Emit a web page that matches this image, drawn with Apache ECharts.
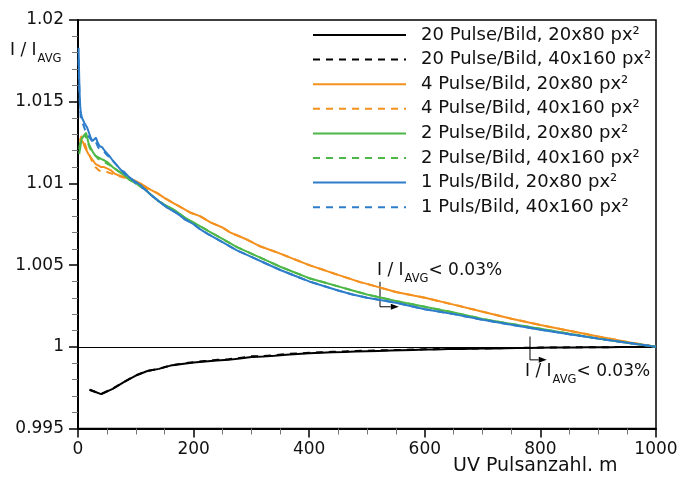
<!DOCTYPE html>
<html><head><meta charset="utf-8">
<script src="https://cdn.jsdelivr.net/npm/echarts@6/dist/echarts.min.js"></script>
<style>html,body{margin:0;padding:0;background:#fff}#c{width:687px;height:477px}</style>
</head><body><div id="c"></div>
<script>
const FONT = 'DejaVu Sans';

// axis ticks
const yTickValues = [0.995, 1, 1.005, 1.01, 1.015, 1.02];
const yTickLabels = ['0.995', '1', '1.005', '1.01', '1.015', '1.02'];
const xTickValues = [0, 200, 400, 600, 800, 1000];
const xTickLabels = ['0', '200', '400', '600', '800', '1000'];

// series names
const seriesNames = [
  '20 Pulse/Bild, 20x80 px²', '20 Pulse/Bild, 40x160 px²',
  '4 Pulse/Bild, 20x80 px²', '4 Pulse/Bild, 40x160 px²',
  '2 Pulse/Bild, 20x80 px²', '2 Pulse/Bild, 40x160 px²',
  '1 Puls/Bild, 20x80 px²', '1 Puls/Bild, 40x160 px²'
];

// 20 Pulse/Bild
const p20_small = [[20,0.99737],[40,0.99710],[60,0.99743],[80,0.99785],[100,0.99824],[120,0.99852],[140,0.99865],[160,0.99885],[180,0.99895],[200,0.99904],[220,0.99910],[240,0.99916],[260,0.99920],[280,0.99928],[300,0.99938],[320,0.99940],[340,0.99945],[360,0.99952],[380,0.99956],[400,0.99960],[420,0.99963],[440,0.99966],[460,0.99968],[480,0.99971],[500,0.99973],[520,0.99975],[540,0.99977],[560,0.99979],[580,0.99981],[600,0.99983],[620,0.99984],[640,0.99986],[660,0.99987],[680,0.99988],[700,0.99989],[720,0.99990],[740,0.99991],[760,0.99992],[780,0.99993],[800,0.99994],[820,0.99995],[840,0.99996],[860,0.99996],[880,0.99997],[900,0.99998],[920,0.99998],[940,0.99999],[960,0.99999],[980,1.0],[1000,1.0]];
const p20_large = [[20,0.99737],[40,0.99711],[60,0.99744],[80,0.99786],[100,0.99825],[120,0.99853],[140,0.99866],[160,0.99886],[180,0.99897],[200,0.99906],[220,0.99913],[240,0.99920],[260,0.99924],[280,0.99932],[300,0.99942],[320,0.99943],[340,0.99949],[360,0.99956],[380,0.99959],[400,0.99963],[420,0.99966],[440,0.99969],[460,0.99971],[480,0.99974],[500,0.99976],[520,0.99978],[540,0.99980],[560,0.99981],[580,0.99983],[600,0.99985],[620,0.99986],[640,0.99987],[660,0.99988],[680,0.99989],[700,0.99990],[720,0.99991],[740,0.99992],[760,0.99993],[780,0.99994],[800,0.99995],[820,0.99995],[840,0.99996],[860,0.99997],[880,0.99997],[900,0.99998],[920,0.99998],[940,0.99999],[960,0.99999],[980,1.0],[1000,1.0]];

// 4 Pulse/Bild
const p4_small = [[3,1.0123],[5,1.0127],[7,1.0128],[9,1.0125],[12,1.0122],[15,1.0121],[18,1.0118],[22,1.0116],[26,1.0114],[30,1.0112],[35,1.0111],[40,1.0110],[45,1.0110],[51,1.0109],[57,1.0108],[63,1.0106],[70,1.0105],[80,1.0104],[88,1.0103],[97,1.0102],[108,1.0100],[117,1.0098],[126,1.0096],[137,1.0094],[150,1.0091],[165,1.0088],[180,1.0085],[195,1.0082],[211,1.0080],[230,1.0076],[250,1.0073],[263,1.0070],[290,1.0066],[315,1.00615],[350,1.0057],[400,1.0050],[450,1.0044],[488,1.00396],[500,1.00385],[550,1.00335],[600,1.0030],[650,1.00258],[700,1.00215],[750,1.00172],[800,1.00133],[850,1.00098],[900,1.00063],[950,1.0003],[1000,1.0]];
const p4_large = [[3,1.0126],[6,1.0129],[9,1.0127],[12,1.0124],[16,1.0120],[20,1.0117],[25,1.0113],[30,1.0110],[36,1.0108],[42,1.0107],[50,1.0107],[58,1.0106],[66,1.0105],[75,1.0104],[85,1.0103],[97,1.0101],[108,1.0099],[117,1.0097],[126,1.0096],[137,1.0094],[150,1.0091],[165,1.0088],[180,1.0085],[195,1.0082],[211,1.0080],[230,1.0076],[250,1.0073],[263,1.0070],[290,1.0066],[315,1.00615],[350,1.0057],[400,1.0050],[450,1.0044],[488,1.00396],[500,1.00385],[550,1.00335],[600,1.0030],[650,1.00258],[700,1.00215],[750,1.00172],[800,1.00133],[850,1.00098],[900,1.00063],[950,1.0003],[1000,1.0]];

// 2 Pulse/Bild
const p2_small = [[2,1.0118],[4,1.0122],[6,1.0127],[8,1.0126],[10,1.0129],[12,1.0128],[14,1.0131],[16,1.0128],[18,1.0125],[20,1.0123],[23,1.0121],[26,1.0119],[30,1.0117],[35,1.0116],[40,1.0115],[46,1.0114],[51,1.0113],[60,1.0110],[68,1.0108],[80,1.0105],[90,1.0102],[100,1.0100],[108,1.0099],[117,1.0096],[126,1.0093],[140,1.0089],[155,1.0086],[170,1.0083],[185,1.0079],[200,1.0076],[211,1.00738],[225,1.0071],[250,1.0066],[275,1.0061],[300,1.0057],[325,1.0053],[350,1.0049],[375,1.00455],[400,1.0042],[425,1.00395],[450,1.0037],[475,1.00345],[500,1.0032],[550,1.0028],[600,1.00245],[650,1.0021],[700,1.0017],[750,1.0014],[800,1.0011],[850,1.0008],[900,1.0005],[950,1.00025],[1000,1.0]];
const p2_large = [[2,1.0121],[4,1.0125],[6,1.0124],[8,1.0128],[10,1.0127],[12,1.0130],[14,1.0128],[16,1.0126],[18,1.0124],[20,1.0122],[23,1.0120],[26,1.0118],[30,1.0117],[35,1.0115],[40,1.0114],[46,1.0113],[51,1.0112],[60,1.0110],[68,1.0108],[80,1.0105],[90,1.0102],[100,1.0100],[108,1.0098],[117,1.0096],[126,1.0093],[140,1.0089],[155,1.0086],[170,1.0083],[185,1.0079],[200,1.0076],[211,1.00738],[225,1.0071],[250,1.0066],[275,1.0061],[300,1.0057],[325,1.0053],[350,1.0049],[375,1.00455],[400,1.0042],[425,1.00395],[450,1.0037],[475,1.00345],[500,1.0032],[550,1.0028],[600,1.00245],[650,1.0021],[700,1.0017],[750,1.0014],[800,1.0011],[850,1.0008],[900,1.0005],[950,1.00025],[1000,1.0]];

// 1 Puls/Bild
const p1_small = [[1,1.0183],[2,1.0166],[3,1.0153],[4,1.0146],[5,1.0143],[7,1.0140],[9,1.0141],[11,1.0137],[13,1.0138],[16,1.0134],[19,1.0131],[22,1.0128],[25,1.0126],[28,1.0127],[31,1.0128],[34,1.0125],[37,1.0123],[42,1.0122],[46,1.0120],[51,1.0118],[56,1.0116],[60,1.0114],[65,1.0112],[70,1.0110],[75,1.0108],[80,1.0107],[88,1.0104],[95,1.0102],[100,1.0101],[108,1.0099],[117,1.0096],[126,1.0093],[140,1.0089],[155,1.0085],[170,1.0082],[185,1.0078],[200,1.0075],[211,1.0072],[225,1.0069],[250,1.0064],[275,1.0059],[300,1.0055],[325,1.0051],[350,1.0047],[375,1.00435],[400,1.0040],[425,1.00372],[450,1.00345],[475,1.0032],[500,1.0030],[550,1.0027],[600,1.0023],[650,1.0020],[700,1.00165],[750,1.00135],[800,1.00105],[850,1.00077],[900,1.0005],[950,1.00025],[1000,1.0]];
const p1_large = [[1,1.0176],[2,1.0160],[3,1.0150],[5,1.0139],[8,1.0137],[12,1.0133],[16,1.0130],[20,1.0128],[26,1.0125],[30,1.0126],[35,1.0122],[40,1.0120],[46,1.0119],[51,1.0117],[56,1.0116],[60,1.0114],[65,1.0112],[70,1.0110],[75,1.0108],[80,1.0106],[88,1.0104],[95,1.0102],[100,1.0100],[108,1.0098],[117,1.0096],[126,1.0093],[140,1.0089],[155,1.0085],[170,1.0082],[185,1.0078],[200,1.0075],[211,1.0072],[225,1.0069],[250,1.0064],[275,1.0059],[300,1.0055],[325,1.0051],[350,1.0047],[375,1.00435],[400,1.0040],[425,1.00372],[450,1.00345],[475,1.0032],[500,1.0030],[550,1.0027],[600,1.0023],[650,1.0020],[700,1.00165],[750,1.00135],[800,1.00105],[850,1.00077],[900,1.0005],[950,1.00025],[1000,1.0]];

const seriesData = [p20_small, p20_large, p4_small, p4_large, p2_small, p2_large, p1_small, p1_large];
const seriesColors = ['#000000','#000000','#F4901E','#F4901E','#4DB848','#4DB848','#2E7DCB','#2E7DCB'];
const seriesDashed = [false,true,false,true,false,true,false,true];

// annotations (data coordinates)
const annotations = [
  { textAt: [517.3, 1.00521], arrow: [[522.5, 1.00398], [522.5, 1.00245], [555, 1.00245]] },
  { textAt: [773.4, 0.99902], arrow: [[782, 1.00063], [782, 0.99920], [811, 0.99920]] }
];

const chart = echarts.init(document.getElementById('c'), null, { renderer: 'canvas' });

const series = seriesNames.map((name, i) => {
  const s = {
    name, type: 'line', data: seriesData[i], symbol: 'none', showSymbol: false,
    animation: false, silent: true,
    lineStyle: { color: seriesColors[i], width: 2, type: seriesDashed[i] ? [7, 6] : 'solid' },
    itemStyle: { color: seriesColors[i] }, z: 2 + i
  };
  if (i === 0) {
    s.markLine = {
      silent: true, symbol: 'none', animation: false, label: { show: false },
      lineStyle: { color: '#000', width: 1, type: 'solid' },
      data: [{ yAxis: 1 }]
    };
  }
  return s;
});

function nearestLabel(vals, labels, v) {
  let best = 0;
  for (let i = 1; i < vals.length; i++) if (Math.abs(vals[i] - v) < Math.abs(vals[best] - v)) best = i;
  return Math.abs(vals[best] - v) < 1e-7 * Math.max(1, Math.abs(v)) + 1e-9 ? labels[best] : '';
}

chart.setOption({
  backgroundColor: '#fff',
  animation: false,
  grid: { left: 78, right: 31, top: 20, bottom: 48.5, show: true, borderColor: '#000', borderWidth: 1.5, backgroundColor: 'transparent' },
  legend: {
    data: seriesNames, orient: 'vertical', left: 312, top: 25, padding: 0,
    itemWidth: 93, itemHeight: 12, itemGap: 4.6, selectedMode: false,
    itemStyle: { opacity: 0, borderWidth: 0 },
    textStyle: { fontFamily: FONT, fontSize: 18, color: '#111', lineHeight: 20, padding: [0, 0, 0, 10] }
  },
  xAxis: {
    type: 'value', min: 0, max: 1000, interval: 200,
    axisLine: { show: true, onZero: false, lineStyle: { color: '#000', width: 2 } },
    axisTick: { show: true, inside: false, length: 9, lineStyle: { color: '#000', width: 1.5 } },
    minorTick: { show: true, splitNumber: 4, length: 6, lineStyle: { color: '#777', width: 1 } },
    splitLine: { show: false }, minorSplitLine: { show: false },
    axisLabel: { fontFamily: FONT, fontSize: 17, color: '#111', margin: 13,
      formatter: v => nearestLabel(xTickValues, xTickLabels, v) }
  },
  yAxis: {
    type: 'value', min: 0.995, max: 1.02, interval: 0.005,
    axisLine: { show: true, onZero: false, lineStyle: { color: '#000', width: 2 } },
    axisTick: { show: true, inside: false, length: 9, lineStyle: { color: '#000', width: 1.5 } },
    minorTick: { show: true, splitNumber: 5, length: 6, lineStyle: { color: '#777', width: 1 } },
    splitLine: { show: false }, minorSplitLine: { show: false },
    axisLabel: { fontFamily: FONT, fontSize: 17, color: '#111', margin: 14,
      formatter: v => nearestLabel(yTickValues, yTickLabels, v) }
  },
  series
});

const rich = {
  m: { fontFamily: FONT, fontSize: 17, lineHeight: 17, color: '#111', verticalAlign: 'top' },
  s: { fontFamily: FONT, fontSize: 11.5, lineHeight: 11.5, color: '#111', verticalAlign: 'top', padding: [11, 0, 0, 1] }
};

const graphics = [];
// y axis name
graphics.push({ type: 'text', left: 10, top: 42, silent: true,
  style: { text: '{m|I / I}{s|AVG}', rich, fill: '#111' } });
// x axis name
graphics.push({ type: 'text', left: 453, top: 457, silent: true,
  style: { text: 'UV Pulsanzahl. m', fontFamily: FONT, fontSize: 19, fill: '#111' } });

annotations.forEach(a => {
  const t = chart.convertToPixel({ gridIndex: 0 }, a.textAt);
  graphics.push({ type: 'text', x: t[0], y: t[1], silent: true,
    style: { text: '{m|I / I}{s|AVG}{m|< 0.03%}', rich, fill: '#111' } });
  const pts = a.arrow.map(p => chart.convertToPixel({ gridIndex: 0 }, p));
  const end = pts[pts.length - 1];
  const base = [end[0] - 8, end[1]];
  graphics.push({ type: 'polyline', silent: true,
    shape: { points: [pts[0], pts[1], base] },
    style: { stroke: '#000', lineWidth: 1, fill: null } });
  graphics.push({ type: 'polygon', silent: true,
    shape: { points: [[base[0], end[1] - 3], end, [base[0], end[1] + 3]] },
    style: { fill: '#000', stroke: null } });
});

chart.setOption({ graphic: graphics });
</script></body></html>
